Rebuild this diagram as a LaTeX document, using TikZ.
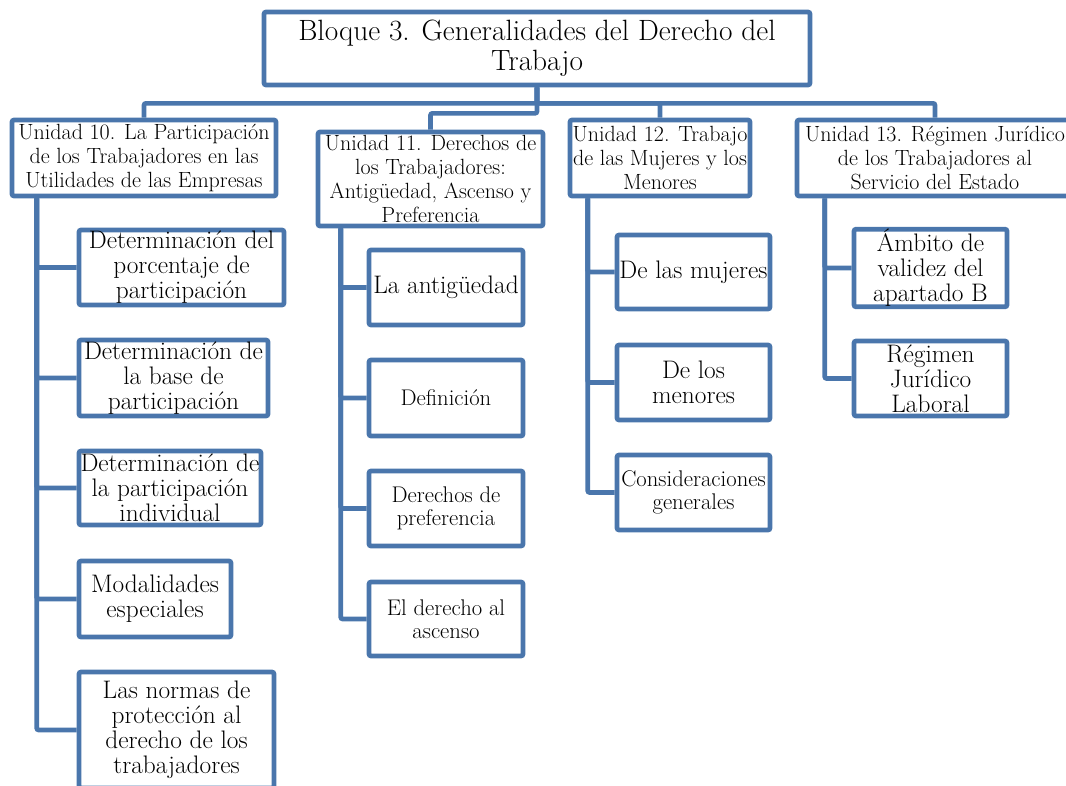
\documentclass[tikz,border=0pt]{standalone}
\usepackage{tikz}
\definecolor{marco}{RGB}{74,118,172}
\tikzset{
    caja/.style={draw=marco, line width=3.5pt, rounded corners=1.5pt, fill=white,
                 align=center, inner sep=0pt},
    rama/.style={draw=marco, line width=3.5pt, rounded corners=1.5pt},
    tam/.style 2 args={minimum width=#1*0.75pt, minimum height=#2*0.75pt},
    titulo/.style={font=\fontsize{22}{22.5}\selectfont},
    unidad/.style={font=\fontsize{16.5}{18}\selectfont},
    tema/.style={font=\fontsize{19}{18.75}\selectfont},
    subtema/.style={font=\fontsize{17}{17.5}\selectfont}
}

\begin{document}
\begin{tikzpicture}[x=0.75pt, y=-0.75pt]
		\useasboundingbox (0,0) rectangle (1066,785);
		\clip (0,0) rectangle (1066,785);

		\node[caja, titulo, tam={546}{73}] (bloque) at (537,48.5) {Bloque 3. Generalidades del Derecho del\\Trabajo};

		% unidades
		\node[caja, unidad, tam={264}{76}] (u10) at (144,158) {Unidad 10. La Participación\\de los Trabajadores en las\\Utilidades de las Empresas};
		\node[caja, unidad, tam={225}{94}] (u11) at (430.5,179) {Unidad 11. Derechos de\\los Trabajadores:\\Antigüedad, Ascenso y\\Preferencia};
		\node[caja, unidad, tam={180}{76}] (u12) at (660,158) {Unidad 12. Trabajo\\de las Mujeres y los\\Menores};
		\node[caja, unidad, tam={276}{76}] (u13) at (935,158) {Unidad 13. Régimen Jurídico\\de los Trabajadores al\\Servicio del Estado};

		% unidad 10
		\node[caja, tema, tam={205}{75}] (c10a) at (181.5,267.5) {Determinación del\\porcentaje de\\participación};
		\node[caja, tema, tam={189}{76}] (c10b) at (173.5,378) {Determinación de\\la base de\\participación};
		\node[caja, tema, tam={182}{74}] (c10c) at (170,488) {Determinación de\\la participación\\individual};
		\node[caja, tema, tam={152}{76}] (c10d) at (155,599) {Modalidades\\especiales};
		\node[caja, tema, tam={195}{116}] (c10e) at (176.5,730) {Las normas de\\protección al\\derecho de los\\trabajadores};

		% unidad 11
		\node[caja, tema, tam={154}{75}] (c11a) at (446,287.5) {La antigüedad};
		\node[caja, subtema, tam={154}{76}] (c11b) at (446,398) {Definición};
		\node[caja, subtema, tam={154}{75}] (c11c) at (446,508.5) {Derechos de\\preferencia};
		\node[caja, subtema, tam={154}{74}] (c11d) at (446,619) {El derecho al\\ascenso};

		% unidad 12
		\node[caja, tema, tam={153}{74}] (c12a) at (693.5,272) {De las mujeres};
		\node[caja, tema, tam={153}{75}] (c12b) at (693.5,382.5) {De los\\menores};
		\node[caja, subtema, tam={153}{75}] (c12c) at (693.5,492.5) {Consideraciones\\generales};

		% unidad 13
		\node[caja, tema, tam={153}{74}] (c13a) at (930.5,268) {Ámbito de\\validez del\\apartado B};
		\node[caja, tema, tam={153}{75}] (c13b) at (930.5,378.5) {Régimen\\Jurídico\\Laboral};

		% ramas
		\draw[rama] (bloque.south) -- ++(0,16) -| (u10.north);
		\draw[rama] (bloque.south) -- ++(0,16) -| (u12.north);
		\draw[rama] (bloque.south) -- ++(0,16) -| (u13.north);
		\draw[rama] (bloque.south) -- ++(0,26) -| (u11.north);

		\foreach \t in {a,b,c,d,e}
			\draw[rama] (u10.south west) ++(27,0) |- (c10\t.west);
		\foreach \t in {a,b,c,d}
			\draw[rama] (u11.south west) ++(25,0) |- (c11\t.west);
		\foreach \t in {a,b,c}
			\draw[rama] (u12.south west) ++(20,0) |- (c12\t.west);
		\foreach \t in {a,b}
			\draw[rama] (u13.south west) ++(30,0) |- (c13\t.west);
\end{tikzpicture}
\end{document}
